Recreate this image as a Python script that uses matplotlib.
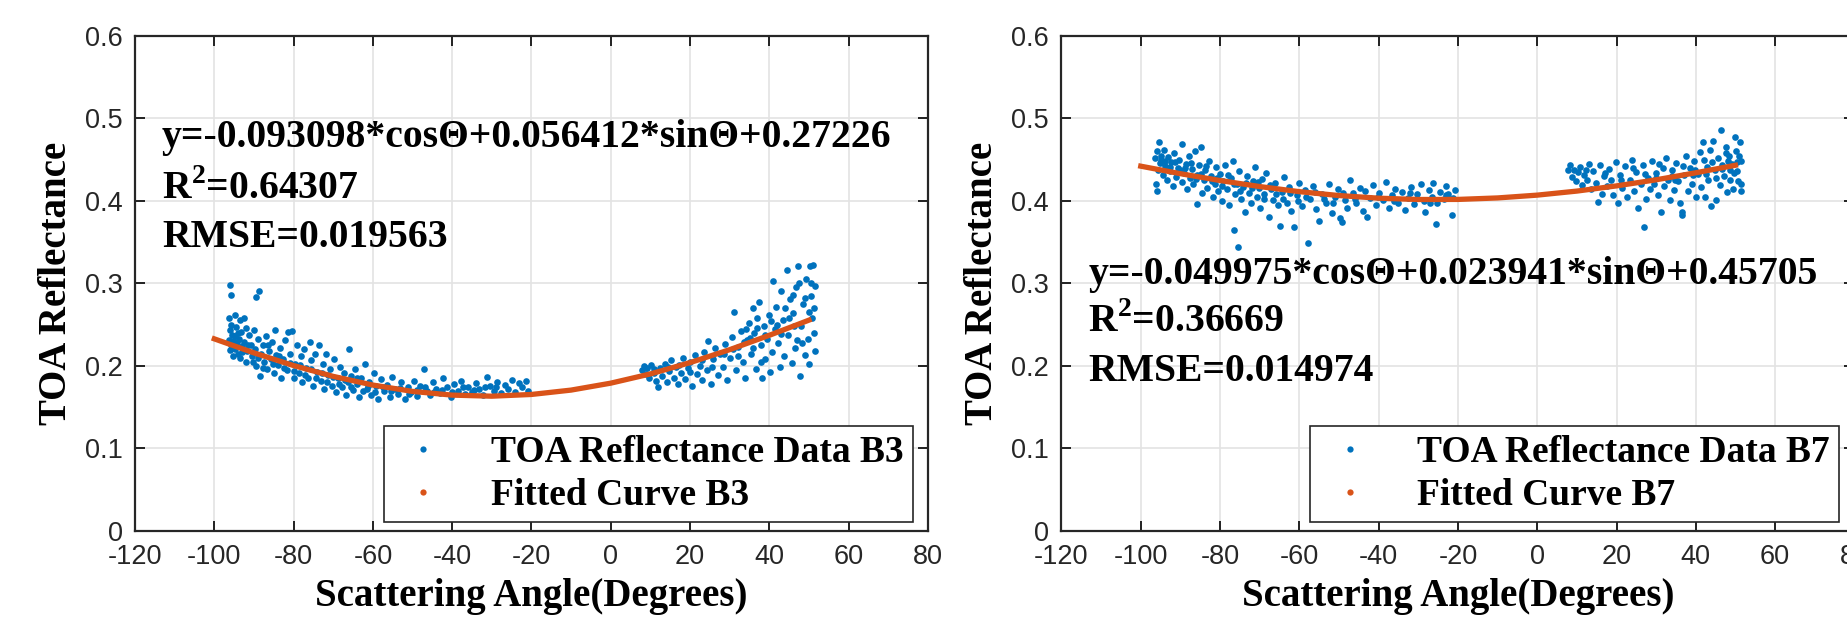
import matplotlib.pyplot as plt
from matplotlib.lines import Line2D

plt.rcParams['axes.unicode_minus'] = False
plt.rcParams['mathtext.fontset'] = 'custom'
plt.rcParams['mathtext.rm'] = 'Liberation Serif:bold'
plt.rcParams['mathtext.bf'] = 'Liberation Serif:bold'

# scattering angle (deg), TOA reflectance
b3_points = [
    (-96.0, 0.298), (-95.9, 0.286), (-88.7, 0.291), (-89.6, 0.284),
    (-96.3, 0.258), (-95.8, 0.250), (-96.1, 0.244), (-95.5, 0.238), (-96.2, 0.232),
    (-95.7, 0.226), (-96.0, 0.219), (-95.4, 0.212), (-94.8, 0.262), (-94.6, 0.247),
    (-94.9, 0.236), (-94.3, 0.229), (-94.7, 0.221), (-94.1, 0.215), (-93.6, 0.256),
    (-93.2, 0.241), (-93.8, 0.233), (-93.0, 0.224), (-93.5, 0.210), (-92.6, 0.258),
    (-92.1, 0.246), (-92.4, 0.229), (-91.8, 0.218), (-92.0, 0.205), (-91.2, 0.238),
    (-90.8, 0.226), (-90.5, 0.212), (-90.1, 0.244), (-89.7, 0.221), (-89.4, 0.200),
    (-88.9, 0.233), (-88.6, 0.188), (-88.2, 0.214), (-87.8, 0.226), (-87.4, 0.205),
    (-87.0, 0.236), (-86.6, 0.196), (-86.2, 0.218), (-85.8, 0.209), (-85.4, 0.229),
    (-85.0, 0.192), (-84.8, 0.244), (-84.4, 0.213), (-84.0, 0.201), (-83.5, 0.222),
    (-83.1, 0.186), (-82.6, 0.208), (-82.2, 0.231), (-81.7, 0.195), (-81.4, 0.241),
    (-80.8, 0.215), (-80.3, 0.242), (-80.0, 0.185), (-79.6, 0.203), (-79.1, 0.226),
    (-78.7, 0.192), (-78.2, 0.212), (-77.8, 0.181), (-77.3, 0.220), (-76.9, 0.198),
    (-76.4, 0.186), (-75.9, 0.229), (-75.5, 0.207), (-75.0, 0.176), (-74.6, 0.214),
    (-74.1, 0.193), (-73.6, 0.226), (-73.2, 0.182), (-72.7, 0.203), (-72.3, 0.172),
    (-71.8, 0.215), (-71.3, 0.189), (-70.8, 0.196), (-70.4, 0.176), (-69.9, 0.208),
    (-69.4, 0.168), (-68.9, 0.186), (-68.4, 0.199), (-67.9, 0.174), (-67.4, 0.192),
    (-66.9, 0.165), (-66.4, 0.181), (-65.9, 0.220), (-65.4, 0.188), (-64.9, 0.171),
    (-64.4, 0.196), (-63.9, 0.178), (-63.4, 0.163), (-62.9, 0.185), (-62.1, 0.202),
    (-61.6, 0.172), (-61.0, 0.181), (-60.4, 0.165), (-59.8, 0.191), (-59.2, 0.176),
    (-58.6, 0.160), (-57.9, 0.184), (-57.2, 0.170), (-56.5, 0.177), (-55.8, 0.163),
    (-55.1, 0.187), (-54.3, 0.172), (-53.6, 0.166), (-52.8, 0.180), (-52.0, 0.160),
    (-51.2, 0.175), (-50.4, 0.169), (-49.6, 0.182), (-48.8, 0.164), (-48.0, 0.176),
    (-47.2, 0.196), (-46.4, 0.170), (-45.6, 0.165), (-44.8, 0.180), (-44.0, 0.172),
    (-43.1, 0.167), (-42.2, 0.185), (-41.3, 0.174), (-40.4, 0.163), (-39.5, 0.178),
    (-38.6, 0.170), (-37.7, 0.182), (-36.8, 0.166), (-35.9, 0.175), (-35.0, 0.169),
    (-34.1, 0.179), (-33.2, 0.172), (-32.3, 0.165), (-31.3, 0.187), (-30.4, 0.176),
    (-29.5, 0.170), (-28.6, 0.181), (-27.7, 0.167), (-26.8, 0.177), (-25.9, 0.172),
    (-25.0, 0.183), (-24.1, 0.168), (-23.2, 0.179), (-22.3, 0.174), (-21.4, 0.182),
    (-21.0, 0.170),
    (-95.2, 0.230), (-94.0, 0.240), (-92.9, 0.217), (-91.5, 0.226), (-90.2, 0.205),
    (-89.0, 0.210), (-87.6, 0.197), (-86.4, 0.225), (-85.2, 0.203), (-83.8, 0.212),
    (-82.4, 0.198), (-81.0, 0.204), (-79.8, 0.194), (-78.4, 0.201), (-77.0, 0.189),
    (-75.7, 0.196), (-74.3, 0.185), (-72.9, 0.192), (-71.5, 0.181), (-70.1, 0.187),
    (-68.6, 0.178), (-67.1, 0.183), (-65.6, 0.174), (-64.1, 0.186), (-62.6, 0.170),
    (-61.2, 0.176), (-59.5, 0.168), (-57.5, 0.175), (-55.5, 0.170), (-53.2, 0.173),
    (-51.0, 0.166), (-49.0, 0.171), (-46.8, 0.175), (-44.5, 0.168), (-42.5, 0.171),
    (-40.0, 0.169), (-37.2, 0.174), (-34.5, 0.171), (-31.8, 0.174), (-29.0, 0.175),
    (7.8, 0.195), (8.3, 0.200), (8.8, 0.190), (9.2, 0.197), (9.7, 0.186), (10.2, 0.201),
    (10.8, 0.192), (11.3, 0.182), (12.0, 0.175), (12.4, 0.198), (13.0, 0.188),
    (13.6, 0.203), (14.1, 0.180), (14.7, 0.194), (15.3, 0.207), (15.9, 0.185),
    (16.4, 0.199), (17.0, 0.178), (17.6, 0.192), (18.2, 0.210), (18.8, 0.184),
    (19.4, 0.197), (20.0, 0.205), (20.6, 0.176), (21.2, 0.213), (21.8, 0.190),
    (22.4, 0.200), (23.0, 0.183), (23.6, 0.217), (24.2, 0.195), (24.6, 0.230),
    (25.2, 0.178), (25.8, 0.208), (26.4, 0.222), (27.0, 0.189), (27.6, 0.214),
    (28.2, 0.199), (28.8, 0.227), (29.4, 0.183), (30.0, 0.210), (30.6, 0.235),
    (31.2, 0.266), (31.7, 0.195), (32.2, 0.223), (32.8, 0.243), (33.3, 0.205),
    (33.8, 0.186), (34.3, 0.231), (34.8, 0.252), (35.3, 0.214), (35.8, 0.270),
    (36.2, 0.240), (36.6, 0.196), (37.0, 0.258), (37.4, 0.277), (37.8, 0.225),
    (38.2, 0.186), (38.6, 0.248), (39.0, 0.208), (39.4, 0.233), (39.8, 0.262),
    (40.2, 0.193), (40.6, 0.217), (41.0, 0.303), (41.4, 0.245), (41.8, 0.271),
    (42.2, 0.228), (42.6, 0.199), (43.0, 0.291), (43.4, 0.256), (43.8, 0.212),
    (44.4, 0.316), (44.8, 0.237), (45.2, 0.281), (45.6, 0.204), (46.0, 0.264),
    (46.4, 0.222), (46.8, 0.296), (47.3, 0.321), (47.7, 0.188), (48.1, 0.249),
    (48.5, 0.275), (48.9, 0.213), (49.3, 0.306), (49.7, 0.233), (50.0, 0.203),
    (50.2, 0.321), (50.5, 0.285), (50.8, 0.258), (51.1, 0.322), (51.3, 0.240),
    (51.5, 0.218), (51.6, 0.297), (51.2, 0.270), (49.9, 0.265), (47.5, 0.300),
    (46.2, 0.248), (44.0, 0.270), (42.0, 0.250), (38.0, 0.205), (36.0, 0.222),
    (34.0, 0.245), (32.0, 0.212),
    (11.0, 0.196), (14.4, 0.199), (17.3, 0.201), (19.9, 0.193), (22.9, 0.207),
    (25.5, 0.199), (28.5, 0.214), (30.9, 0.221), (33.5, 0.229), (35.0, 0.234),
    (36.9, 0.246), (38.8, 0.238), (40.4, 0.255), (42.9, 0.239), (45.0, 0.258),
    (47.0, 0.232), (49.0, 0.282), (50.6, 0.301), (48.3, 0.228), (45.9, 0.286),
]

b7_points = [
    (-96.4, 0.452), (-96.1, 0.421), (-96.0, 0.412), (-95.5, 0.471), (-95.8, 0.460),
    (-95.2, 0.446), (-95.6, 0.437), (-94.8, 0.455), (-94.5, 0.431), (-94.2, 0.462),
    (-93.9, 0.442), (-93.5, 0.425), (-93.1, 0.453), (-92.7, 0.436), (-92.3, 0.447),
    (-91.9, 0.418), (-91.5, 0.458), (-91.1, 0.429), (-90.7, 0.440), (-90.3, 0.450),
    (-89.7, 0.469), (-89.5, 0.423), (-89.1, 0.434), (-88.7, 0.445), (-88.3, 0.414),
    (-87.9, 0.455), (-87.5, 0.428), (-87.1, 0.439), (-86.7, 0.420), (-86.3, 0.460),
    (-85.9, 0.432), (-85.7, 0.396), (-85.3, 0.444), (-84.8, 0.465), (-84.5, 0.410),
    (-84.1, 0.425), (-83.7, 0.437), (-83.2, 0.416), (-82.8, 0.448), (-82.3, 0.430),
    (-81.9, 0.405), (-81.4, 0.421), (-81.0, 0.441), (-80.5, 0.412), (-80.1, 0.433),
    (-79.6, 0.400), (-79.2, 0.424), (-78.7, 0.444), (-78.2, 0.415), (-77.8, 0.395),
    (-77.3, 0.428), (-76.8, 0.449), (-76.6, 0.365), (-76.3, 0.408), (-75.8, 0.420),
    (-75.5, 0.344), (-75.2, 0.436), (-74.7, 0.402), (-74.2, 0.417), (-73.8, 0.387),
    (-73.3, 0.430), (-72.8, 0.410), (-72.3, 0.398), (-71.8, 0.424), (-71.3, 0.441),
    (-70.8, 0.405), (-70.3, 0.416), (-69.8, 0.392), (-69.3, 0.427), (-68.8, 0.409),
    (-68.3, 0.434), (-67.6, 0.380), (-67.1, 0.414), (-66.6, 0.401), (-66.1, 0.422),
    (-65.5, 0.395), (-65.0, 0.370), (-64.4, 0.411), (-63.8, 0.429), (-63.2, 0.398),
    (-62.6, 0.417), (-62.0, 0.388), (-61.3, 0.368), (-60.7, 0.407), (-60.0, 0.422),
    (-59.3, 0.394), (-58.6, 0.413), (-57.9, 0.349), (-57.2, 0.402), (-56.5, 0.418),
    (-55.8, 0.390), (-55.0, 0.376), (-54.2, 0.409), (-53.4, 0.398), (-52.6, 0.420),
    (-51.8, 0.386), (-51.0, 0.405), (-50.3, 0.414), (-49.7, 0.379), (-49.3, 0.374),
    (-48.6, 0.401), (-47.9, 0.392), (-47.2, 0.425), (-46.4, 0.410), (-45.6, 0.397),
    (-44.8, 0.416), (-44.0, 0.388), (-43.0, 0.381), (-42.2, 0.404), (-41.4, 0.419),
    (-40.6, 0.395), (-39.8, 0.410), (-39.0, 0.401), (-38.2, 0.423), (-37.4, 0.392),
    (-36.6, 0.407), (-35.8, 0.415), (-35.0, 0.398), (-34.2, 0.411), (-33.4, 0.389),
    (-32.6, 0.404), (-31.8, 0.417), (-31.0, 0.396), (-30.2, 0.408), (-29.4, 0.420),
    (-28.6, 0.400), (-28.2, 0.387), (-27.4, 0.413), (-26.6, 0.405), (-26.2, 0.422),
    (-25.6, 0.372), (-25.2, 0.397), (-24.4, 0.411), (-23.6, 0.402), (-22.9, 0.418),
    (-22.4, 0.408), (-21.6, 0.383), (-21.2, 0.404), (-20.8, 0.413),
    (-95.0, 0.450), (-93.8, 0.448), (-92.5, 0.441), (-91.3, 0.447), (-90.0, 0.437),
    (-88.8, 0.440), (-87.4, 0.446), (-86.1, 0.427), (-84.9, 0.433), (-83.5, 0.443),
    (-82.1, 0.424), (-80.8, 0.428), (-79.4, 0.418), (-78.0, 0.431), (-76.5, 0.421),
    (-75.0, 0.412), (-73.5, 0.422), (-72.0, 0.416), (-70.5, 0.423), (-69.0, 0.403),
    (-67.4, 0.419), (-65.8, 0.408), (-64.2, 0.402), (-62.4, 0.410), (-60.4, 0.400),
    (-58.2, 0.405), (-56.0, 0.411), (-53.8, 0.403), (-51.5, 0.397), (-49.0, 0.410),
    (-46.0, 0.403), (-43.5, 0.412), (-40.2, 0.405), (-36.0, 0.400), (-32.0, 0.410),
    (-27.0, 0.398), (-23.0, 0.407),
    (7.8, 0.438), (8.2, 0.444), (8.7, 0.429), (9.3, 0.437), (9.8, 0.424), (10.3, 0.435),
    (10.9, 0.441), (11.4, 0.419), (11.9, 0.432), (12.5, 0.426), (13.0, 0.445),
    (13.6, 0.414), (14.1, 0.436), (14.7, 0.422), (15.4, 0.399), (15.8, 0.444),
    (16.3, 0.409), (16.9, 0.430), (17.5, 0.418), (18.1, 0.439), (18.7, 0.425),
    (19.2, 0.407), (19.8, 0.447), (20.4, 0.397), (20.9, 0.431), (21.5, 0.416),
    (22.1, 0.442), (22.7, 0.405), (23.3, 0.426), (23.9, 0.450), (24.5, 0.412),
    (25.0, 0.435), (25.5, 0.391), (26.1, 0.420), (26.6, 0.444), (27.0, 0.369),
    (27.4, 0.402), (27.9, 0.428), (28.4, 0.414), (28.9, 0.449), (29.4, 0.421),
    (29.9, 0.434), (30.4, 0.407), (31.2, 0.387), (31.6, 0.440), (32.1, 0.418),
    (32.6, 0.452), (33.1, 0.426), (33.6, 0.401), (34.1, 0.437), (34.6, 0.413),
    (35.1, 0.446), (35.6, 0.424), (36.1, 0.397), (36.4, 0.387), (36.6, 0.383),
    (37.0, 0.431), (37.5, 0.454), (38.0, 0.412), (38.5, 0.440), (39.0, 0.420),
    (39.5, 0.448), (40.0, 0.405), (40.5, 0.433), (41.0, 0.459), (41.4, 0.417),
    (41.8, 0.472), (42.3, 0.405), (42.7, 0.441), (43.1, 0.426), (43.5, 0.462),
    (43.9, 0.394), (44.4, 0.473), (44.8, 0.437), (45.2, 0.401), (45.6, 0.452),
    (46.0, 0.419), (46.3, 0.486), (46.7, 0.444), (47.1, 0.430), (47.5, 0.465),
    (47.9, 0.411), (48.3, 0.455), (48.7, 0.426), (49.1, 0.445), (49.5, 0.415),
    (49.8, 0.478), (50.1, 0.460), (50.4, 0.436), (50.7, 0.424), (51.1, 0.472),
    (51.3, 0.421), (51.5, 0.449), (51.4, 0.412), (50.9, 0.455), (49.6, 0.434),
    (48.0, 0.448), (45.0, 0.428), (42.0, 0.450), (39.2, 0.432), (34.8, 0.425),
    (30.0, 0.428),
    (12.2, 0.438), (17.0, 0.434), (21.2, 0.425), (24.2, 0.440), (27.2, 0.433),
    (30.7, 0.445), (33.9, 0.430), (36.8, 0.443), (39.8, 0.438), (42.5, 0.433),
    (44.0, 0.447), (46.5, 0.439), (48.5, 0.437), (50.3, 0.447), (47.7, 0.458),
]

# fitted curves, sampled every 10 degrees
fit_x = [-100, -90, -80, -70, -60, -50, -40, -30, -20, -10, 0, 10, 20, 30, 40, 50]
fit_b3 = [0.2329, 0.2159, 0.2005, 0.1874, 0.1769, 0.1692, 0.1647, 0.1634,
          0.1655, 0.1708, 0.1792, 0.1904, 0.2041, 0.2198, 0.2372, 0.2556]
fit_b7 = [0.4422, 0.4331, 0.4248, 0.4175, 0.4113, 0.4066, 0.4034, 0.4018,
          0.4019, 0.4037, 0.4071, 0.4120, 0.4183, 0.4257, 0.4342, 0.4433]

b3_text = ['y=-0.093098*cosΘ+0.056412*sinΘ+0.27226', 'R$^{2}$=0.64307', 'RMSE=0.019563']
b7_text = ['y=-0.049975*cosΘ+0.023941*sinΘ+0.45705', 'R$^{2}$=0.36669', 'RMSE=0.014974']

BLUE = '#0072BD'
ORANGE = '#D95319'
serif_bold = {'family': 'Liberation Serif', 'weight': 'bold'}


def draw_panel(ax, points, fit_y, lines, text_y, band):
    xs = [p[0] for p in points]
    ys = [p[1] for p in points]
    ax.plot(xs, ys, 'o', color=BLUE, ms=4.8, mec='none', zorder=3)
    ax.plot(fit_x, fit_y, '-', color=ORANGE, lw=3.8, zorder=4)

    ax.set_xlim(-120, 80)
    ax.set_ylim(0, 0.6)
    ax.set_xticks(range(-120, 81, 20))
    ax.set_yticks([0, 0.1, 0.2, 0.3, 0.4, 0.5, 0.6])
    ax.set_yticklabels(['0', '0.1', '0.2', '0.3', '0.4', '0.5', '0.6'])
    ax.tick_params(direction='in', top=True, right=True, length=7, width=1.2,
                   labelsize=19.5, labelcolor='#262626', pad=9)
    for lbl in ax.get_xticklabels() + ax.get_yticklabels():
        lbl.set_family('Liberation Sans')
    ax.grid(True, color='#e3e3e3', lw=1.2)
    ax.set_axisbelow(True)
    for sp in ax.spines.values():
        sp.set_linewidth(1.6)
        sp.set_color('#262626')

    ax.set_xlabel('Scattering Angle(Degrees)', fontsize=28, labelpad=6, **serif_bold)
    ax.set_ylabel('TOA Reflectance', fontsize=28, labelpad=7, **serif_bold)

    for s, y in zip(lines, text_y):
        ax.text(-113.2, y, s, fontsize=28.5, va='baseline', ha='left', **serif_bold)

    handles = [
        Line2D([], [], ls='none', marker='o', color=BLUE, ms=4.5, mec='none'),
        Line2D([], [], ls='none', marker='o', color=ORANGE, ms=4.5, mec='none'),
    ]
    leg = ax.legend(handles, ['TOA Reflectance Data ' + band, 'Fitted Curve ' + band],
                    loc='lower right', bbox_to_anchor=(0.981, 0.018), borderaxespad=0,
                    prop={'family': 'Liberation Serif', 'weight': 'bold', 'size': 27},
                    fancybox=False, framealpha=1, edgecolor='#262626',
                    handlelength=1.6, handletextpad=1.0, borderpad=0.25,
                    labelspacing=0.2)
    leg.get_frame().set_linewidth(1.2)


fig = plt.figure(figsize=(18.47, 6.29), dpi=100)
ax1 = fig.add_axes([0.0731, 0.1558, 0.4293, 0.787])
ax2 = fig.add_axes([0.5747, 0.1558, 0.4293, 0.787])

draw_panel(ax1, b3_points, fit_b3, b3_text, [0.466, 0.403, 0.344], 'B3')
draw_panel(ax2, b7_points, fit_b7, b7_text, [0.2994, 0.241, 0.1824], 'B7')

fig.savefig('out.png', dpi=100)
